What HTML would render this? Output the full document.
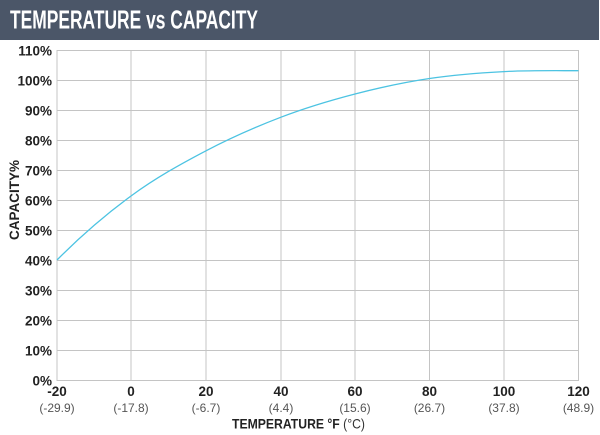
<!DOCTYPE html>
<html><head><meta charset="utf-8">
<style>
html,body{margin:0;padding:0;background:#fff;}
svg{display:block;}
text{font-family:"Liberation Sans",Arial,sans-serif;}
</style></head>
<body>
<svg width="600" height="435" viewBox="0 0 600 435" xmlns="http://www.w3.org/2000/svg">
<rect x="0" y="0" width="600" height="435" fill="#fff"/>
<rect x="0" y="0" width="599" height="40" fill="#4b5668"/>
<text x="10" y="28.5" font-size="26" font-weight="bold" fill="#fff" textLength="248" lengthAdjust="spacingAndGlyphs">TEMPERATURE vs CAPACITY</text>

<g stroke="#c4c4c4" stroke-width="1" fill="none">
<line x1="57" y1="50.5" x2="579" y2="50.5"/>
<line x1="57" y1="80.5" x2="579" y2="80.5"/>
<line x1="57" y1="110.5" x2="579" y2="110.5"/>
<line x1="57" y1="140.5" x2="579" y2="140.5"/>
<line x1="57" y1="170.5" x2="579" y2="170.5"/>
<line x1="57" y1="200.5" x2="579" y2="200.5"/>
<line x1="57" y1="230.5" x2="579" y2="230.5"/>
<line x1="57" y1="260.5" x2="579" y2="260.5"/>
<line x1="57" y1="290.5" x2="579" y2="290.5"/>
<line x1="57" y1="320.5" x2="579" y2="320.5"/>
<line x1="57" y1="350.5" x2="579" y2="350.5"/>
<line x1="57" y1="380.5" x2="579" y2="380.5"/>
<line x1="57" y1="50" x2="57" y2="381"/>
<line x1="131" y1="50" x2="131" y2="381"/>
<line x1="206" y1="50" x2="206" y2="381"/>
<line x1="281" y1="50" x2="281" y2="381"/>
<line x1="355" y1="50" x2="355" y2="381"/>
<line x1="429.5" y1="50" x2="429.5" y2="381"/>
<line x1="504" y1="50" x2="504" y2="381"/>
<line x1="578.5" y1="50" x2="578.5" y2="381"/>
</g>

<path d="M57,260 C81.8,235 106.2,214.2 131,196 C155.8,177.8 181,163.9 206,150.8 C231,137.7 256.2,126.7 281,117.2 C305.8,107.7 330.25,100.45 355,94 C379.75,87.55 404.7,82.2 429.5,78.5 C454.3,74.8 479.2,72.9 504,71.6 C528.8,70.3 553.7,70.7 578.5,70.7" fill="none" stroke="#4cc3e2" stroke-width="1.3"/>

<g font-size="13.5" font-weight="bold" fill="#222" text-anchor="end">
<text x="52" y="55.5">110%</text>
<text x="52" y="85.5">100%</text>
<text x="52" y="115.5">90%</text>
<text x="52" y="145.5">80%</text>
<text x="52" y="175.5">70%</text>
<text x="52" y="205.5">60%</text>
<text x="52" y="235.5">50%</text>
<text x="52" y="265.5">40%</text>
<text x="52" y="295.5">30%</text>
<text x="52" y="325.5">20%</text>
<text x="52" y="355.5">10%</text>
<text x="52" y="385.5">0%</text>
</g>

<text transform="translate(19,200) rotate(-90)" font-size="13.5" font-weight="bold" fill="#222" text-anchor="middle">CAPACITY%</text>

<g font-size="13.5" font-weight="bold" fill="#222" text-anchor="middle">
<text x="57" y="396">-20</text>
<text x="131" y="396">0</text>
<text x="206" y="396">20</text>
<text x="281" y="396">40</text>
<text x="355" y="396">60</text>
<text x="429.5" y="396">80</text>
<text x="504" y="396">100</text>
<text x="578.5" y="396">120</text>
</g>
<g font-size="12" fill="#555" text-anchor="middle">
<text x="57" y="412">(-29.9)</text>
<text x="131" y="412">(-17.8)</text>
<text x="206" y="412">(-6.7)</text>
<text x="281" y="412">(4.4)</text>
<text x="355" y="412">(15.6)</text>
<text x="429.5" y="412">(26.7)</text>
<text x="504" y="412">(37.8)</text>
<text x="578.5" y="412">(48.9)</text>
</g>
<text x="232" y="428.5" font-size="14" fill="#222" textLength="133" lengthAdjust="spacingAndGlyphs"><tspan font-weight="bold">TEMPERATURE °F </tspan><tspan fill="#333">(°C)</tspan></text>
</svg>
</body></html>
